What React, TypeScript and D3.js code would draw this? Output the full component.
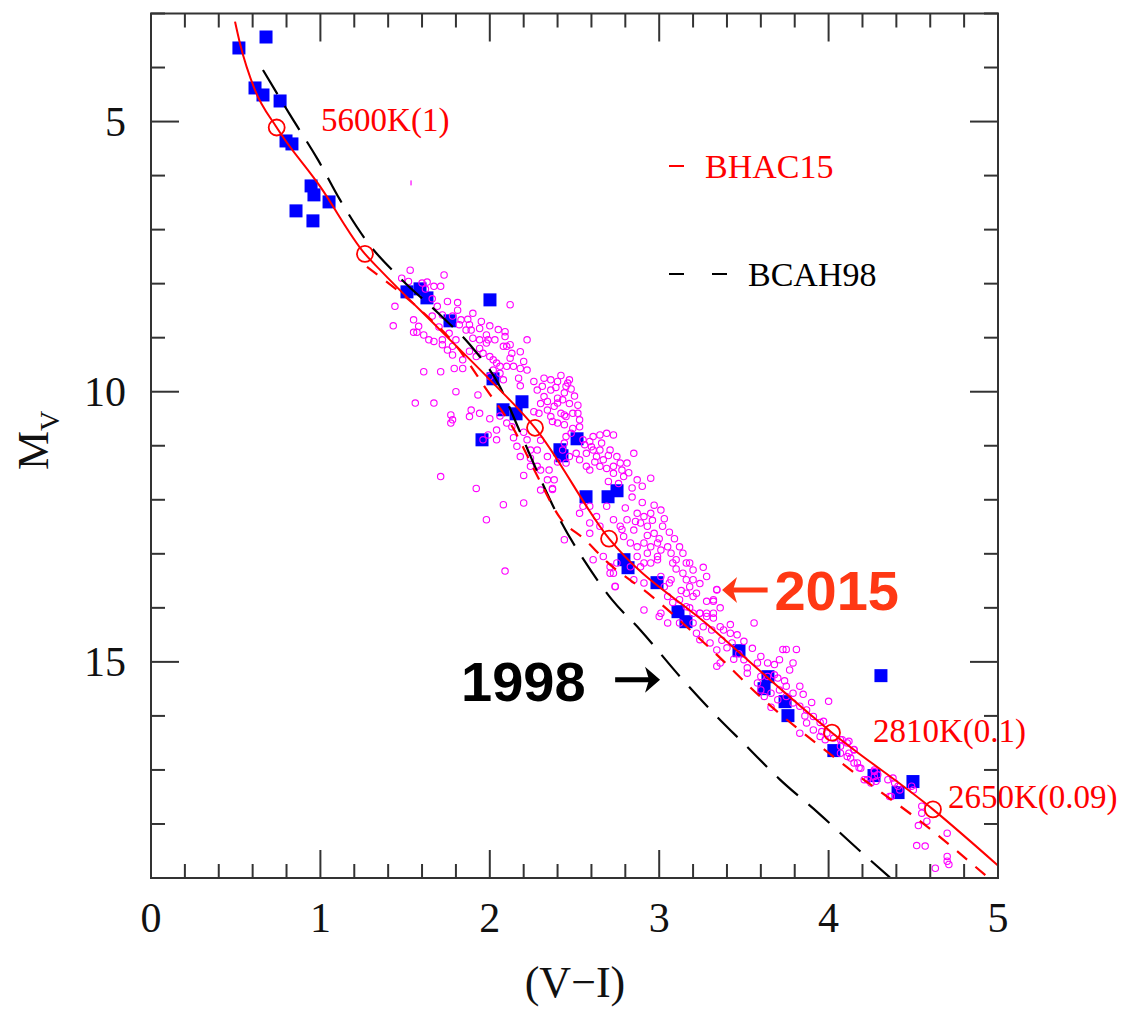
import React from "react";
import * as d3 from "d3";

const W = 1130;
const H = 1011;
const PLOT = { left: 151, right: 998, top: 13.5, bottom: 878 };

const X_DOMAIN: [number, number] = [0, 5];
const Y_DOMAIN: [number, number] = [3, 19];
const X_LABELS = [0, 1, 2, 3, 4, 5];
const Y_LABELS = [5, 10, 15];

// BHAC15 isochrone, (V-I, Mv)
const bhac15: [number, number][] = [
  [0.496, 3.15], [0.525, 3.55], [0.614, 4.42], [0.742, 5.11], [1.0, 6.21],
  [1.263, 7.449], [1.352, 7.745], [1.706, 8.855], [2.001, 9.78], [2.267, 10.668],
  [2.704, 12.72], [3.3, 14.35], [4.02, 16.31], [4.616, 17.73], [5.0, 18.77],
];

// BHAC15 companion track (dashed red)
const bhac15Dashed: [number, number][] = [
  [1.275, 7.69], [1.588, 8.48], [1.806, 9.17], [1.983, 9.97], [2.137, 10.67],
  [2.279, 11.55], [2.414, 12.33], [2.562, 12.74], [2.692, 13.15], [2.946, 13.76],
  [3.341, 14.87], [3.595, 15.64], [4.026, 16.75], [4.61, 18.12], [4.941, 18.99],
];

// BCAH98 isochrone (dashed black)
const bcah98: [number, number][] = [
  [0.661, 4.045], [0.821, 4.877], [0.986, 5.71], [1.116, 6.45], [1.281, 7.245],
  [1.47, 7.893], [1.706, 8.577], [1.883, 9.132], [2.06, 9.909], [2.178, 10.741],
  [2.296, 11.592], [2.414, 12.369], [2.562, 13.146], [2.721, 13.849], [2.887, 14.404],
  [3.123, 15.273], [3.318, 15.939], [3.518, 16.568], [3.713, 17.179], [3.937, 17.789],
  [4.156, 18.418], [4.362, 18.991],
];

// Temperature (mass) markers on the BHAC15 track
const markV = [0.742, 1.263, 2.267, 2.704, 4.02, 4.616];
const markMv = [5.11, 7.449, 10.668, 12.72, 16.31, 17.73];

// Marker labels with their anchor positions (V-I, Mv of the text baseline start)
const markLabels = ["5600K(1)", "2810K(0.1)", "2650K(0.09)"];
const markLabelV = [1.004, 4.262, 4.705];
const markLabelMv = [5.17, 16.48, 17.7];

// Nearby stars with trigonometric parallaxes (filled blue squares)
const nearbyStars: [number, number][] = [
  [0.519, 3.638], [0.679, 3.435], [0.614, 4.378], [0.661, 4.508], [0.762, 4.619],
  [0.797, 5.359], [0.832, 5.414], [0.945, 6.191], [0.962, 6.357], [1.051, 6.487],
  [0.856, 6.653], [0.956, 6.838], [1.511, 8.152], [1.588, 8.096], [1.629, 8.263],
  [2.001, 8.3], [1.765, 8.688], [2.019, 9.761], [2.19, 10.186], [2.078, 10.334],
  [2.155, 10.409], [1.954, 10.89], [2.515, 10.871], [2.414, 11.074], [2.426, 11.185],
  [2.568, 11.944], [2.698, 11.944], [2.751, 11.833], [2.792, 13.109], [2.816, 13.257],
  [2.987, 13.534], [3.111, 14.071], [3.158, 14.256], [3.471, 14.793], [3.642, 15.274],
  [3.619, 15.496], [3.743, 15.736], [3.76, 15.995], [4.309, 15.255], [4.031, 16.642],
  [4.268, 17.104], [4.498, 17.215], [4.41, 17.419],
];

// Field M dwarfs (open magenta circles)
const fieldStars: [number, number][] = [
  [1.53, 7.75], [1.48, 7.9], [1.52, 7.96], [1.6, 7.99], [1.63, 7.97], [1.67, 8.05], [1.71, 8.05], [1.73, 7.84],
  [1.44, 8.42], [1.43, 8.78], [1.55, 8.67], [1.58, 8.79], [1.55, 8.9], [1.57, 8.9], [1.61, 8.95], [1.64, 9.04],
  [1.67, 9.07], [1.72, 9.04], [1.75, 8.33], [1.81, 8.35], [1.81, 8.49], [1.9, 8.55], [1.83, 8.67], [1.82, 8.76],
  [1.88, 8.76], [1.89, 8.86], [1.94, 8.83], [1.86, 8.86], [1.9, 9.01], [1.94, 9.04], [1.99, 9.04], [1.98, 9.1],
  [2.03, 9.04], [2.12, 8.39], [2.09, 8.89], [2.09, 8.98], [2.08, 9.16], [2.1, 9.16], [2.12, 9.13], [2.13, 9.29],
  [2.22, 9.04], [2.18, 9.26], [2.2, 9.44], [1.94, 9.2], [1.96, 9.29], [2.0, 9.35], [2.02, 9.41], [2.04, 9.47],
  [2.06, 9.53], [2.1, 9.53], [2.14, 9.53], [2.18, 9.57], [2.22, 9.6], [2.02, 9.6], [2.06, 9.66], [2.0, 9.72],
  [2.08, 9.78], [2.17, 9.75], [2.18, 9.89], [2.26, 9.81], [2.32, 9.75], [2.31, 9.9], [2.28, 9.97], [2.36, 9.97],
  [2.4, 9.81], [2.46, 9.84], [2.47, 9.78], [2.45, 9.9], [2.32, 10.09], [2.4, 10.12], [2.4, 10.21], [2.43, 10.15],
  [2.38, 10.27], [2.34, 10.34], [2.29, 10.4], [2.26, 10.37], [2.36, 10.46], [2.42, 10.4], [2.44, 10.43], [2.45, 10.46],
  [2.49, 10.4], [2.52, 10.4], [2.53, 10.52], [2.37, 10.55], [2.4, 10.58], [2.44, 10.61], [2.49, 10.68], [2.53, 10.65],
  [2.48, 10.77], [2.45, 10.83], [2.55, 10.89], [2.59, 10.92], [2.61, 10.83], [2.65, 10.8], [2.69, 10.77], [2.73, 10.8],
  [2.61, 11.08], [2.65, 11.08], [2.71, 11.08], [2.57, 11.14], [2.63, 11.2], [2.53, 11.26], [2.67, 11.26], [2.77, 11.32],
  [2.73, 11.38], [2.81, 11.32], [2.85, 11.14], [2.57, 11.38], [2.65, 11.38], [2.73, 11.51], [2.79, 11.57], [2.87, 11.63],
  [2.95, 11.6], [2.44, 10.95], [2.43, 11.08], [2.51, 11.14], [2.47, 11.2], [2.45, 11.32], [2.38, 11.63], [2.34, 11.63],
  [2.3, 11.45], [2.28, 11.38], [2.24, 11.38], [2.18, 11.2], [2.24, 11.08], [2.28, 11.08], [2.22, 10.89], [2.16, 11.01],
  [2.13, 10.65], [2.1, 10.58], [2.04, 10.71], [1.99, 10.8], [1.96, 10.89], [2.04, 10.89], [1.94, 10.4], [1.89, 10.34],
  [1.88, 10.46], [1.77, 10.43], [1.78, 10.52], [1.77, 10.58], [1.56, 10.21], [1.67, 10.21], [1.8, 10.0], [1.93, 10.06],
  [1.84, 9.57], [1.79, 9.57], [1.71, 9.63], [1.61, 9.63], [1.72, 9.13], [1.75, 9.23], [1.78, 9.32], [1.84, 9.41],
  [1.78, 9.16], [1.8, 9.04], [1.71, 11.57], [1.92, 11.79], [2.37, 11.79], [2.3, 11.82],
  [2.73, 12.37], [2.77, 12.49], [2.81, 12.37], [2.85, 12.56], [2.89, 12.43], [2.93, 12.49], [2.97, 12.62], [3.01, 12.19],
  [3.02, 12.49], [2.87, 12.25], [2.91, 12.31], [2.95, 12.25], [2.79, 12.68], [2.83, 12.8], [2.87, 12.87], [2.91, 12.8],
  [2.95, 12.87], [2.99, 12.8], [3.01, 12.93], [3.05, 12.87], [3.07, 12.99], [3.12, 12.87], [3.1, 13.11], [3.14, 12.99],
  [3.18, 13.17], [2.99, 13.05], [2.93, 12.99], [2.87, 13.05], [2.95, 13.17], [2.89, 13.24], [2.83, 13.24], [2.85, 13.48],
  [2.91, 13.54], [3.01, 13.42], [3.03, 13.61], [3.07, 13.48], [3.14, 13.36], [3.16, 13.48], [3.18, 13.61], [3.2, 13.48],
  [3.22, 13.73], [3.12, 13.85], [3.16, 13.98], [3.2, 14.1], [3.24, 14.1], [3.28, 14.1], [3.32, 14.19], [3.34, 13.67],
  [3.32, 13.85], [3.36, 14.35], [3.05, 13.79], [3.01, 14.1], [2.91, 14.04], [2.73, 13.36], [2.74, 13.61], [2.59, 12.62],
  [2.44, 12.74], [2.09, 13.32], [2.69, 12.12], [2.59, 12.12], [2.53, 12.25], [2.55, 12.12], [1.98, 12.37], [2.08, 12.09],
  [2.2, 12.06], [2.37, 11.81], [2.24, 11.23], [2.63, 12.31], [2.65, 12.49], [2.59, 12.43], [2.61, 13.11], [2.67, 13.05],
  [2.71, 13.24],
  [3.22, 14.47], [3.24, 14.59], [3.3, 14.65], [3.34, 14.78], [3.4, 14.74], [3.43, 14.65], [3.42, 14.47], [3.38, 14.41],
  [3.31, 14.41], [3.36, 15.02], [3.34, 15.08], [3.5, 14.96], [3.52, 15.11], [3.52, 15.21], [3.58, 15.02], [3.64, 15.02],
  [3.68, 15.05], [3.71, 14.96], [3.73, 14.77], [3.75, 14.77], [3.81, 14.77], [3.79, 15.02], [3.77, 15.15], [3.68, 15.24],
  [3.64, 15.27], [3.6, 15.27], [3.58, 15.39], [3.6, 15.52], [3.62, 15.64], [3.66, 15.58], [3.71, 15.52], [3.75, 15.45],
  [3.83, 15.45], [3.79, 15.58], [3.75, 15.64], [3.79, 15.76], [3.83, 15.82], [3.87, 15.89], [3.91, 16.01], [3.87, 16.13],
  [3.83, 16.32], [3.91, 16.26], [3.95, 16.38], [3.99, 16.32], [4.0, 15.73], [4.03, 16.41], [4.07, 16.44], [4.11, 16.5],
  [4.15, 16.63], [4.07, 16.69], [4.11, 16.75], [4.17, 16.87], [4.19, 16.97], [4.27, 17.0], [4.29, 17.09], [4.23, 17.18],
  [4.25, 17.24], [4.35, 17.18], [4.39, 17.24], [4.42, 17.37], [4.5, 17.37], [4.37, 17.49],
  [2.71, 13.36], [2.74, 13.6], [2.75, 13.17], [2.91, 13.17], [2.99, 13.11], [3.08, 13.17], [3.16, 13.17], [3.06, 13.54],
  [3.16, 13.73], [3.2, 13.79], [3.28, 13.42], [3.34, 13.66], [3.32, 13.88], [3.36, 14.0], [3.24, 14.1], [3.28, 14.16],
  [3.2, 14.28], [3.12, 14.28], [3.05, 14.28], [3.0, 14.16], [3.42, 14.31], [3.56, 14.28], [3.32, 14.1],
  [3.97, 16.1], [3.96, 16.29], [3.98, 16.44], [4.08, 16.44], [4.12, 16.47], [4.07, 16.56], [4.15, 16.62], [4.12, 16.69],
  [4.13, 16.78], [4.15, 16.87], [4.18, 16.96], [4.21, 17.18], [4.23, 17.18], [4.27, 17.03], [4.27, 17.12], [4.28, 17.21],
  [4.38, 17.15], [4.41, 17.3], [4.36, 17.49], [4.49, 17.3], [4.55, 17.67], [4.55, 17.8], [4.58, 17.95], [4.53, 18.03],
  [4.7, 18.17], [4.52, 18.4], [4.57, 18.41], [4.7, 18.6], [4.7, 18.69], [4.71, 18.75], [4.63, 18.82],
  // denser core of the sequence
  [2.36, 9.78], [2.39, 9.92], [2.42, 9.7], [2.44, 10.02], [2.48, 9.95], [2.5, 10.08], [2.47, 10.22], [2.52, 10.25],
  [2.34, 10.18], [2.3, 10.22], [2.56, 10.98], [2.6, 11.02], [2.66, 10.95], [2.7, 11.18], [2.62, 11.3], [2.59, 11.45],
  [2.69, 11.42], [2.75, 11.2], [2.78, 11.45], [2.82, 11.5], [2.76, 11.7], [2.84, 11.78], [2.9, 11.75], [2.7, 11.66],
  [2.84, 11.95], [2.9, 12.05], [2.97, 12.1], [2.8, 12.15], [2.86, 12.4], [2.96, 12.38], [3.03, 12.35], [3.06, 12.6],
  [2.93, 12.66], [3.0, 12.72], [3.09, 12.72], [2.78, 12.55], [3.1, 13.28], [3.2, 13.3], [3.26, 13.25], [3.24, 13.55],
  [3.13, 13.68], [3.08, 13.9], [3.28, 13.88], [3.18, 14.0], [3.26, 14.35], [3.46, 14.5], [3.5, 14.62], [3.47, 14.85],
  [3.55, 14.75], [3.6, 14.9], [3.44, 14.95], [3.37, 14.6], [3.7, 15.3], [3.74, 15.35], [3.85, 15.6], [3.9, 15.75],
  [3.86, 16.0], [3.95, 16.12], [3.7, 15.7], [3.66, 15.84], [1.62, 8.1], [1.66, 8.28], [1.69, 8.42], [1.72, 8.58],
  [1.78, 8.6], [1.87, 8.66], [1.95, 8.7], [2.0, 8.78], [1.98, 8.95], [2.05, 8.85], [1.7, 8.8], [1.76, 8.92],
  [1.66, 8.6], [1.92, 9.35], [1.88, 9.25], [2.12, 9.38], [2.0, 10.5], [2.06, 10.45], [2.14, 10.85], [2.2, 10.75],
  [2.3, 10.9], [2.34, 11.2], [2.4, 11.3], [2.35, 11.45], [2.2, 11.55],
];

// isolated faint speck above the sequence
const speckV = [1.535];
const speckMv = [6.135];

const RED = "#ff0000";
const ORANGE_RED = "#ff3814";
const BLUE = "#0000ff";
const MAGENTA = "#ff00ff";
const SERIF = "'Liberation Serif', 'Times New Roman', serif";
const SANS = "'Liberation Sans', Arial, Helvetica, sans-serif";

export default function App() {
  const x = d3.scaleLinear().domain(X_DOMAIN).range([PLOT.left, PLOT.right]);
  const y = d3.scaleLinear().domain(Y_DOMAIN).range([PLOT.top, PLOT.bottom]);
  const line = d3
    .line<[number, number]>()
    .x((d) => x(d[0]))
    .y((d) => y(d[1]))
    .curve(d3.curveMonotoneX);

  const xTicks = d3.range(0, 25 + 1).map((i) => i * 0.2);
  const yTicks = d3.range(3, 20);
  const isMajorX = (v: number) => Math.abs(v - Math.round(v)) < 1e-6;
  const isMajorY = (v: number) => v % 5 === 0;
  const MAJOR = 28;
  const MINOR = 14;
  const axisColor = "#333";

  const sq = 13;

  // arrow helper: horizontal arrow with a solid notched head
  const arrow = (x0: number, x1: number, yy: number, color: string, key: string) => {
    const dir = Math.sign(x1 - x0);
    const tip = x1;
    const back = tip - dir * 15;
    const notch = tip - dir * 11;
    return (
      <g key={key}>
        <line x1={x0} y1={yy} x2={notch} y2={yy} stroke={color} strokeWidth={5} />
        <path
          d={`M${tip},${yy} L${back},${yy - 13} L${notch},${yy} L${back},${yy + 13} Z`}
          fill={color}
        />
      </g>
    );
  };

  return (
    <svg
      width={W}
      height={H}
      viewBox={`0 0 ${W} ${H}`}
      style={{ position: "absolute", left: 0, top: 0, background: "#fff" }}
    >
      <defs>
        <clipPath id="plotClip">
          <rect x={PLOT.left} y={PLOT.top} width={PLOT.right - PLOT.left} height={PLOT.bottom - PLOT.top} />
        </clipPath>
      </defs>
      <rect width={W} height={H} fill="#fff" />

      <g clipPath="url(#plotClip)">
        {/* nearby stars */}
        {nearbyStars.map((d, i) => (
          <rect key={`s${i}`} x={x(d[0]) - sq / 2} y={y(d[1]) - sq / 2} width={sq} height={sq} fill={BLUE} />
        ))}
        {/* field dwarfs */}
        {fieldStars.map((d, i) => (
          <circle key={`c${i}`} cx={x(d[0])} cy={y(d[1])} r={3.2} fill="none" stroke={MAGENTA} strokeWidth={1.1} />
        ))}
        {speckV.map((v, i) => (
          <rect key={`k${i}`} x={x(v) - 0.6} y={y(speckMv[i]) - 2.5} width={1.2} height={5} fill={MAGENTA} />
        ))}
        {/* isochrones */}
        <path d={line(bcah98) || ""} fill="none" stroke="#000" strokeWidth={2.2} strokeDasharray="28 14" />
        <path d={line(bhac15Dashed) || ""} fill="none" stroke={RED} strokeWidth={2.2} strokeDasharray="13 11" />
        <path d={line(bhac15) || ""} fill="none" stroke={RED} strokeWidth={2} />
        {markV.map((v, i) => (
          <circle key={`m${i}`} cx={x(v)} cy={y(markMv[i])} r={8} fill="none" stroke={RED} strokeWidth={1.8} />
        ))}
      </g>

      {/* marker labels */}
      {markLabels.map((t, i) => (
        <text key={`ml${i}`} x={x(markLabelV[i])} y={y(markLabelMv[i])} fill={RED} fontFamily={SERIF} fontSize={33}>
          {t}
        </text>
      ))}

      {/* legend */}
      <line x1={669} y1={166} x2={684} y2={166} stroke={RED} strokeWidth={2} />
      <text x={705} y={178} fill={RED} fontFamily={SERIF} fontSize={34}>
        BHAC15
      </text>
      <line x1={669} y1={274} x2={684} y2={274} stroke="#000" strokeWidth={2} />
      <line x1={712} y1={274} x2={727} y2={274} stroke="#000" strokeWidth={2} />
      <text x={748} y={286} fill="#000" fontFamily={SERIF} fontSize={34}>
        BCAH98
      </text>

      {/* year callouts */}
      <text x={x(1.83)} y={y(15.72)} fill="#000" fontFamily={SANS} fontWeight="bold" fontSize={56}>
        1998
      </text>
      {arrow(x(2.74), x(3.005), y(15.33), "#000", "a1998")}
      {arrow(x(3.64), x(3.371), y(13.67), ORANGE_RED, "a2015")}
      <text x={x(3.68)} y={y(14.04)} fill={ORANGE_RED} fontFamily={SANS} fontWeight="bold" fontSize={56}>
        2015
      </text>

      {/* frame */}
      <rect
        x={PLOT.left}
        y={PLOT.top}
        width={PLOT.right - PLOT.left}
        height={PLOT.bottom - PLOT.top}
        fill="none"
        stroke={axisColor}
        strokeWidth={2}
      />
      {/* x ticks, bottom and top */}
      {xTicks.map((v, i) => {
        const len = isMajorX(v) ? MAJOR : MINOR;
        const px = x(v);
        return (
          <g key={`xt${i}`}>
            <line x1={px} x2={px} y1={PLOT.bottom} y2={PLOT.bottom - len} stroke={axisColor} strokeWidth={2} />
            <line x1={px} x2={px} y1={PLOT.top} y2={PLOT.top + len} stroke={axisColor} strokeWidth={2} />
          </g>
        );
      })}
      {/* y ticks, left and right */}
      {yTicks.map((v, i) => {
        const len = isMajorY(v) ? MAJOR : MINOR;
        const py = y(v);
        return (
          <g key={`yt${i}`}>
            <line x1={PLOT.left} x2={PLOT.left + len} y1={py} y2={py} stroke={axisColor} strokeWidth={2} />
            <line x1={PLOT.right} x2={PLOT.right - len} y1={py} y2={py} stroke={axisColor} strokeWidth={2} />
          </g>
        );
      })}
      {/* tick labels */}
      {X_LABELS.map((v) => (
        <text key={`xl${v}`} x={x(v)} y={PLOT.bottom + 54} textAnchor="middle" fontFamily={SERIF} fontSize={42} fill="#111">
          {v}
        </text>
      ))}
      {Y_LABELS.map((v) => (
        <text key={`yl${v}`} x={126} y={y(v) + 14} textAnchor="end" fontFamily={SERIF} fontSize={42} fill="#111">
          {v}
        </text>
      ))}
      {/* axis titles */}
      <text x={575} y={997} textAnchor="middle" fontFamily={SERIF} fontSize={44} fill="#111">
        (V−I)
      </text>
      <text transform="translate(48,470) rotate(-90)" fontFamily={SERIF} fontSize={44} fill="#111">
        M
        <tspan fontSize={28} dy={11}>
          V
        </tspan>
      </text>
    </svg>
  );
}
